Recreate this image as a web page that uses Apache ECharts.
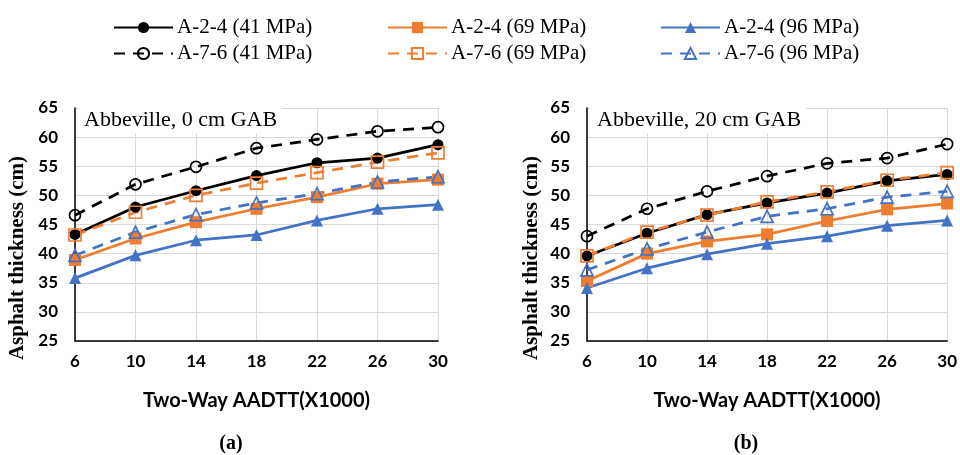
<!DOCTYPE html>
<html>
<head>
<meta charset="utf-8">
<script src="https://cdn.jsdelivr.net/npm/echarts@6/dist/echarts.min.js"></script>
<style>
  html, body { margin: 0; padding: 0; background: #fff; }
  #chart { width: 960px; height: 455px; }
</style>
</head>
<body>
<div id="chart"></div>
<script>
// two-way AADTT (x1000)
const categories = ['6', '10', '14', '18', '22', '26', '30']

// (a) Abbeville, 0 cm GAB
const a24_41_0 = [43.3, 48.0, 50.8, 53.4, 55.6, 56.4, 58.7]
const a76_41_0 = [46.6, 51.9, 54.9, 58.1, 59.6, 61.0, 61.7]
const a24_69_0 = [38.9, 42.6, 45.4, 47.7, 49.7, 52.0, 52.7]
const a76_69_0 = [43.2, 47.1, 50.0, 52.1, 53.9, 55.7, 57.3]
const a24_96_0 = [35.8, 39.7, 42.3, 43.2, 45.7, 47.7, 48.4]
const a76_96_0 = [39.7, 43.7, 46.7, 48.7, 50.3, 52.3, 53.2]

// (b) Abbeville, 20 cm GAB
const a24_41_20 = [39.6, 43.5, 46.7, 48.7, 50.4, 52.5, 53.6]
const a76_41_20 = [43.0, 47.7, 50.7, 53.3, 55.5, 56.4, 58.8]
const a24_69_20 = [35.3, 40.0, 42.1, 43.3, 45.6, 47.6, 48.6]
const a76_69_20 = [39.6, 43.7, 46.6, 48.9, 50.6, 52.6, 53.9]
const a24_96_20 = [34.1, 37.5, 39.9, 41.7, 43.0, 44.8, 45.7]
const a76_96_20 = [37.2, 40.8, 43.7, 46.4, 47.7, 49.7, 50.7]

const seriesNames = ['A-2-4 (41 MPa)', 'A-7-6 (41 MPa)', 'A-2-4 (69 MPa)', 'A-7-6 (69 MPa)', 'A-2-4 (96 MPa)', 'A-7-6 (96 MPa)']

const BLACK = '#000000'
const ORANGE = '#ED7D31'
const BLUE = '#4472C4'

const serif = '"Liberation Serif", "Times New Roman", serif'
const sans = 'Lato, "Open Sans", sans-serif'

// line style per series (same in both panels)
const looks = [
  { color: BLACK, dashed: false, symbol: 'circle', size: 11 },
  { color: BLACK, dashed: true, symbol: 'circle', size: 11 },
  { color: ORANGE, dashed: false, symbol: 'rect', size: 12 },
  { color: ORANGE, dashed: true, symbol: 'rect', size: 12 },
  { color: BLUE, dashed: false, symbol: 'triangle', size: 12 },
  { color: BLUE, dashed: true, symbol: 'triangle', size: 12 },
]

function makeSeries(name, data, look, idx) {
  return {
    name: name,
    type: 'line',
    xAxisIndex: idx,
    yAxisIndex: idx,
    data: data,
    symbol: look.symbol,
    symbolSize: look.size,
    lineStyle: {
      color: look.color,
      width: 2.75,
      type: look.dashed ? [11, 8] : 'solid'
    },
    itemStyle: look.dashed
      ? { color: 'rgba(255,255,255,0)', borderColor: look.color, borderWidth: 1.7 }
      : { color: look.color, borderColor: look.color, borderWidth: 0 },
    emphasis: { disabled: true },
    animation: false
  }
}

const panelA = [a24_41_0, a76_41_0, a24_69_0, a76_69_0, a24_96_0, a76_96_0]
const panelB = [a24_41_20, a76_41_20, a24_69_20, a76_69_20, a24_96_20, a76_96_20]

let series = []
panelA.forEach((d, i) => series.push(makeSeries(seriesNames[i], d, looks[i], 0)))
panelB.forEach((d, i) => series.push(makeSeries(seriesNames[i], d, looks[i], 1)))

function xAxisFor(idx) {
  return {
    type: 'category',
    gridIndex: idx,
    data: categories,
    boundaryGap: false,
    axisLine: { lineStyle: { color: '#000', width: 1.5 } },
    axisTick: { show: false },
    axisLabel: { color: '#000', fontFamily: sans, fontWeight: 'bold', fontSize: 17, margin: 12 },
    splitLine: { show: true, lineStyle: { color: '#d9d9d9', width: 1 } },
    name: 'Two-Way AADTT(X1000)',
    nameLocation: 'middle',
    nameGap: 50,
    nameTextStyle: { color: '#000', fontFamily: sans, fontWeight: 'bold', fontSize: 20 }
  }
}

function yAxisFor(idx) {
  return {
    type: 'value',
    gridIndex: idx,
    min: 25,
    max: 65,
    interval: 5,
    axisLine: { show: true, lineStyle: { color: '#000', width: 1.5 } },
    axisTick: { show: false },
    axisLabel: { color: '#000', fontFamily: sans, fontWeight: 'bold', fontSize: 17, margin: 17 },
    splitLine: { show: true, lineStyle: { color: '#d9d9d9', width: 1 } }
  }
}

function legendCol(left, names) {
  return {
    orient: 'vertical',
    left: left,
    top: 12,
    data: names,
    itemWidth: 59,
    itemHeight: 14,
    itemGap: 5,
    textStyle: { fontFamily: serif, fontSize: 21, color: '#000', lineHeight: 21, padding: [0, 0, 0, -1] }
  }
}

function boxLabel(text, left) {
  return {
    text: text,
    left: left,
    top: 107,
    backgroundColor: '#fff',
    padding: [2, 5, 2, 5],
    textStyle: { fontFamily: serif, fontSize: 22, fontWeight: 'normal', color: '#000' }
  }
}

function textEl(text, x, y, font, rot) {
  return {
    type: 'text',
    x: x,
    y: y,
    rotation: rot || 0,
    style: { text: text, font: font, fill: '#000', align: 'center', verticalAlign: 'middle', textAlign: 'center', textVerticalAlign: 'middle' }
  }
}

const chart = echarts.init(document.getElementById('chart'), null, { renderer: 'canvas' })

const option = {
  backgroundColor: '#fff',
  animation: false,
  legend: [
    legendCol(108, [seriesNames[0], seriesNames[1]]),
    legendCol(382, [seriesNames[2], seriesNames[3]]),
    legendCol(655, [seriesNames[4], seriesNames[5]])
  ],
  title: [
    boxLabel('Abbeville, 0 cm GAB', 79),
    boxLabel('Abbeville, 20 cm GAB', 592)
  ],
  grid: [
    { left: 75, top: 108, width: 363, height: 233 },
    { left: 587, top: 108, width: 365, height: 233 }
  ],
  xAxis: [xAxisFor(0), xAxisFor(1)],
  yAxis: [yAxisFor(0), yAxisFor(1)],
  graphic: [
    textEl('Asphalt thickness (cm)', 18, 258, 'bold 21px ' + serif, Math.PI / 2),
    textEl('Asphalt thickness (cm)', 532, 258, 'bold 21px ' + serif, Math.PI / 2),
    textEl('(a)', 231, 444, 'bold 20px ' + serif),
    textEl('(b)', 746, 444, 'bold 20px ' + serif)
  ],
  series: series
}

chart.setOption(option)
</script>
</body>
</html>
